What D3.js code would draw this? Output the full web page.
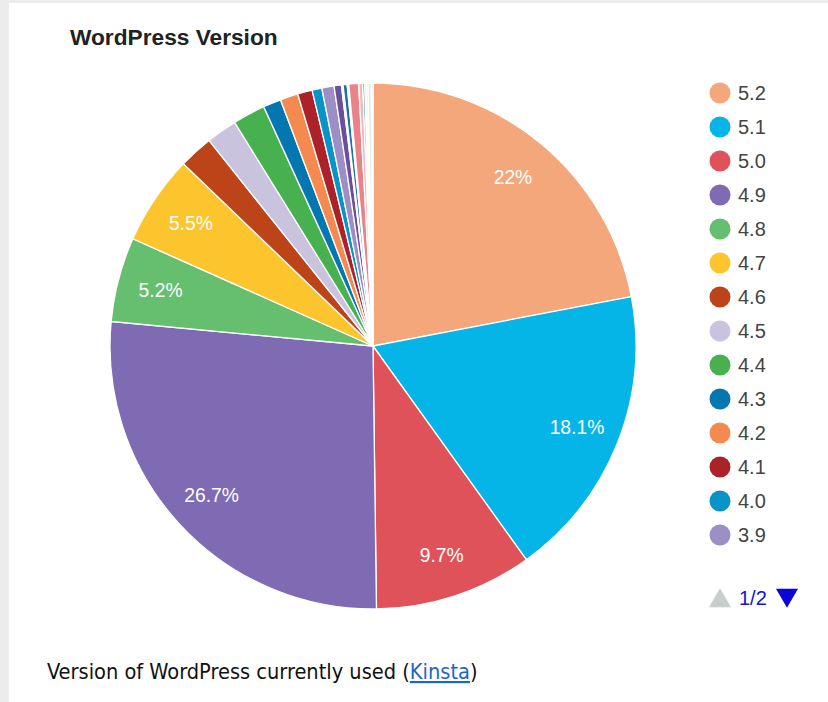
<!DOCTYPE html>
<html>
<head>
<meta charset="utf-8">
<script src="https://cdn.jsdelivr.net/npm/d3@7"></script>
<style>
  body { margin: 0; background: #ececec; }
  svg { display: block; }
</style>
</head>
<body>
<div id="chart"></div>
<script>
// versions shown in the pie, in drawing order (clockwise from 12 o'clock)
const versions = ['5.2', '5.1', '5.0', '4.9', '4.8', '4.7', '4.6', '4.5', '4.4', '4.3', '4.2', '4.1', '4.0', '3.9',
    '3.8', '3.7', '3.6', '3.5', '3.4', '3.3', '3.2', '3.1', '3.0', '2.9', '2.8'];
const shares = [22, 18.1, 9.7, 26.7, 5.2, 5.5, 2.1, 1.9, 2.0, 1.1, 1.1, 0.9, 0.6, 0.75,
    0.45, 0.1, 0.25, 0.1, 0.6, 0.25, 0.12, 0.1, 0.1, 0.2, 0.1];
const colors = ['#F4A77B', '#05B5E8', '#E05259', '#7F6AB4', '#66BE6F', '#FDC52D', '#BC4418', '#C9C3DE',
    '#47B14F', '#0577B0', '#F58A50', '#AB2328', '#0A93C7', '#9D8EC5', '#6A4F9C', '#D8E8F2', '#1D6FAF',
    '#EEF3F8', '#E9838A', '#F5B8BA', '#2A7DBE', '#CFE4F0', '#B8DFAE', '#DDEFD9', '#EFEFEF'];
const legendPage = 14;   // first page of the legend
const pageLabel = '1/2';

const data = versions.map((v, i) => ({ version: v, value: shares[i], color: colors[i] }));

const width = 828;
const height = 702;
const cx = 373, cy = 346, radius = 263;

const svg = d3.select('#chart')
    .append('svg')
    .attr('width', width)
    .attr('height', height);

// white panel
svg.append('rect')
    .attr('x', 9)
    .attr('y', 3)
    .attr('width', width - 9)
    .attr('height', height - 3)
    .attr('fill', '#fff');

svg.append('text')
    .attr('x', 70)
    .attr('y', 45)
    .attr('font-family', 'Liberation Sans, Arial, sans-serif')
    .attr('font-weight', 'bold')
    .attr('font-size', 22.7)
    .attr('fill', '#222')
    .text('WordPress Version');

const pie = d3.pie()
    .sort(null)
    .value((d) => d.value);

const arcs = pie(data);

const arc = d3.arc()
    .innerRadius(0)
    .outerRadius(radius);

const labelArc = d3.arc()
    .innerRadius(radius * 0.835)
    .outerRadius(radius * 0.835);

const total = d3.sum(data, (d) => d.value);

const g = svg.append('g')
    .attr('transform', `translate(${cx}, ${cy})`);

g.selectAll('path')
    .data(arcs)
    .join('path')
    .attr('d', arc)
    .attr('fill', (d) => d.data.color)
    .attr('stroke', '#fff')
    .attr('stroke-width', 1.3);

g.selectAll('text')
    .data(arcs.filter((d) => d.data.value / total >= 0.05))
    .join('text')
    .attr('transform', (d) => `translate(${labelArc.centroid(d)})`)
    .attr('dy', '0.36em')
    .attr('text-anchor', 'middle')
    .attr('font-family', 'Liberation Sans, Arial, sans-serif')
    .attr('font-size', 19.3)
    .attr('fill', '#fff')
    .text((d) => d.data.value + '%');

// legend
const legendItems = data.slice(0, legendPage);
const yLegend = d3.scalePoint()
    .domain(legendItems.map((d) => d.version))
    .range([93, 535]);

const legend = svg.append('g')
    .attr('class', 'legend');

const rows = legend.selectAll('g')
    .data(legendItems)
    .join('g')
    .attr('transform', (d) => `translate(720, ${yLegend(d.version)})`);

rows.append('circle')
    .attr('r', 10.5)
    .attr('fill', (d) => d.color);

rows.append('text')
    .attr('x', 18)
    .attr('dy', '0.36em')
    .attr('font-family', 'Liberation Sans, Arial, sans-serif')
    .attr('font-size', 20)
    .attr('fill', '#444')
    .text((d) => d.version);

// pager
const pagerY = yLegend(legendItems[legendItems.length - 1].version) + 63;
const pager = legend.append('g')
    .attr('transform', `translate(0, ${pagerY})`);

pager.append('path')
    .attr('transform', 'translate(720, 3)')
    .attr('d', d3.symbol(d3.symbolTriangle, 210)())
    .attr('fill', '#C8CECC');

pager.append('text')
    .attr('x', 739)
    .attr('dy', '0.36em')
    .attr('font-family', 'Liberation Sans, Arial, sans-serif')
    .attr('font-size', 20)
    .attr('fill', '#0F16CC')
    .text(pageLabel);

pager.append('path')
    .attr('transform', 'translate(787, -3) rotate(180)')
    .attr('d', d3.symbol(d3.symbolTriangle, 210)())
    .attr('fill', '#0A06D6');

// caption
const caption = svg.append('text')
    .attr('x', 47)
    .attr('y', 679)
    .attr('font-family', 'DejaVu Sans Condensed, DejaVu Sans, sans-serif')
    .attr('font-size', 21.6)
    .attr('fill', '#111');

caption.append('tspan').text('Version of WordPress currently used (');
caption.append('tspan')
    .attr('fill', '#1a66c9')
    .attr('text-decoration', 'underline')
    .text('Kinsta');
caption.append('tspan').text(')');
</script>
</body>
</html>
